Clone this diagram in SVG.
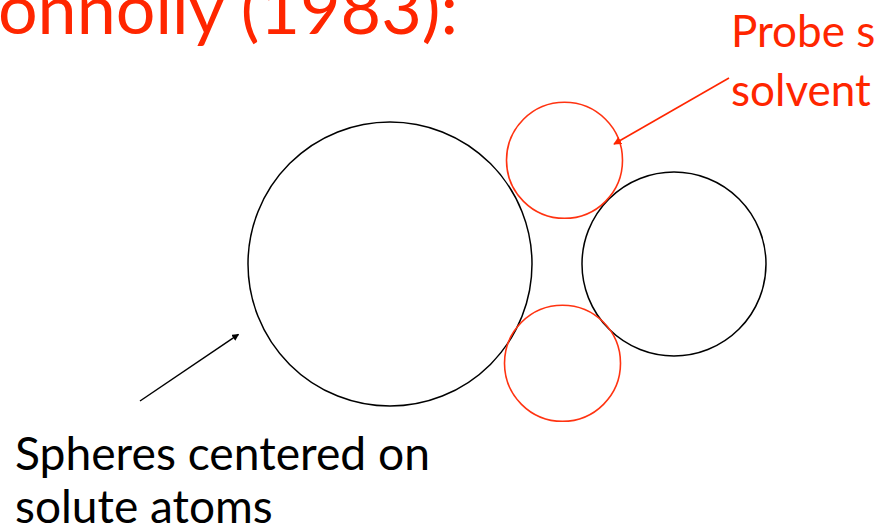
<svg xmlns="http://www.w3.org/2000/svg" width="876" height="530" viewBox="0 0 876 530">
<style>
.red{fill:#ff2600;font-family:Lato,"Open Sans",sans-serif}
.blk{fill:#000;font-family:Lato,"Open Sans",sans-serif}
.atom{fill:none;stroke:#000;stroke-width:1.5}
.probe{fill:none;stroke:#ff3311;stroke-width:1.6}
</style>
<defs>
<marker id="ahB" viewBox="0 0 10 10" refX="9" refY="5" markerWidth="7" markerHeight="7" markerUnits="userSpaceOnUse" orient="auto"><path d="M0,0 L10,5 L0,10 z" fill="#000"/></marker>
<marker id="ahR" viewBox="0 0 10 10" refX="9" refY="5" markerWidth="8" markerHeight="8" markerUnits="userSpaceOnUse" orient="auto"><path d="M0,0 L10,5 L0,10 z" fill="#ff2600"/></marker>
</defs>
<rect width="876" height="530" fill="#fff"/>
<g id="title"><text class="red" x="458" y="34" font-size="70" text-anchor="end">Connolly (1983):</text></g>
<g id="atom-large"><circle class="atom" cx="390" cy="264" r="142"/></g>
<g id="atom-small"><circle class="atom" cx="674" cy="264" r="92"/></g>
<g id="probe-top"><circle class="probe" cx="564.5" cy="160.3" r="58"/></g>
<g id="probe-bottom"><circle class="probe" cx="562.5" cy="363.3" r="58"/></g>
<g id="label-probe"><text class="red" x="731" y="47" font-size="44">Probe sphere:</text><text class="red" x="731" y="106" font-size="44">solvent</text></g>
<g id="label-atoms"><text class="blk" x="15" y="470" font-size="46" textLength="415" lengthAdjust="spacingAndGlyphs">Spheres centered on</text><text class="blk" x="15" y="523" font-size="46">solute atoms</text></g>
<g id="connectors">
<line x1="729" y1="78" x2="614" y2="144" stroke="#ff2600" stroke-width="1.6" marker-end="url(#ahR)"/>
<line x1="140" y1="401" x2="238.5" y2="334.3" stroke="#000" stroke-width="1.5" marker-end="url(#ahB)"/>
</g>
</svg>
